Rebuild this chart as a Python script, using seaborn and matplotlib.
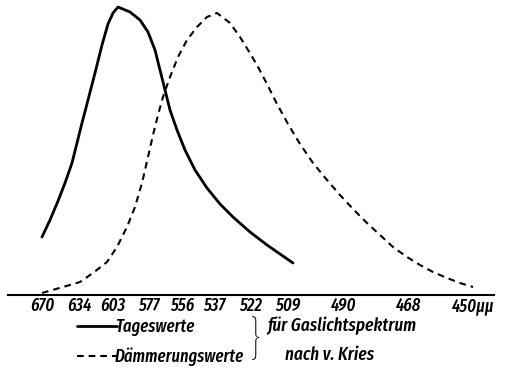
import pandas as pd
import matplotlib
matplotlib.use('Agg')
import matplotlib.pyplot as plt
import seaborn as sns

# Spektralskala des Gaslichtspektrums: Skalenteile und zugehoerige Wellenlaengen
tick_pos = [0, 37, 71, 107, 140, 172, 209, 246, 302, 366, 431]
tick_labels = ['670', '634', '603', '577', '556', '537', '522', '509', '490', '468', '450μμ']

# Tageswerte (ausgezogen): Skalenteil, Helligkeit
day_x = [0, 8, 16, 23, 30, 35, 40, 46, 53, 60, 66, 71, 76, 88, 98, 106, 113, 118,
         123, 128, 135, 143, 153, 165, 178, 191, 208, 225, 238, 251]
day_y = [58, 75, 94, 112, 132, 152, 172, 195, 222, 250, 271, 282, 288, 283, 275, 263,
         245, 225, 205, 185, 165, 145, 125, 107, 91, 78, 63, 50, 41, 32]

# Daemmerungswerte (gestrichelt)
dusk_x = [0, 21, 38, 51, 65, 75, 85, 93, 100, 106, 111, 116, 121, 128, 136, 145, 155,
          165, 175, 188, 198, 206, 215, 225, 235, 246, 258, 271, 285, 298, 311, 325,
          338, 351, 365, 378, 391, 405, 418, 431]
dusk_y = [2, 8, 13, 22, 33, 48, 68, 88, 112, 138, 160, 180, 198, 218, 238, 255, 268,
          278, 282, 272, 258, 245, 230, 211, 191, 171, 151, 132, 115, 100, 86, 72,
          60, 48, 38, 30, 23, 17, 12, 8]

day = pd.DataFrame({'x': day_x, 'y': day_y})
dusk = pd.DataFrame({'x': dusk_x, 'y': dusk_y})

sns.set_style('white')
plt.rcParams['font.family'] = ['Fira Sans Extra Condensed', 'DejaVu Sans']
plt.rcParams['font.style'] = 'italic'
plt.rcParams['font.weight'] = 'medium'
plt.rcParams['text.color'] = 'black'

fig = plt.figure(figsize=(5.10, 3.68), dpi=100)
ax = fig.add_axes([8 / 510, 73 / 368, 486 / 510, 295 / 368])

sns.lineplot(data=day, x='x', y='y', ax=ax, color='black', linewidth=2.0,
             label='Tageswerte')
sns.lineplot(data=dusk, x='x', y='y', ax=ax, color='black', linewidth=1.5,
             label='Dämmerungswerte')
ax.lines[1].set_dashes((3.2, 2.4))

ax.set_xlim(-34, 452)
ax.set_ylim(0, 295)
ax.set_xlabel('')
ax.set_ylabel('')
ax.set_yticks([])
ax.set_xticks(tick_pos)
ax.set_xticklabels(tick_labels, fontsize=13, style='italic', fontweight='medium')
ax.tick_params(axis='x', direction='in', length=6, width=1.0, pad=1.5, colors='black')
sns.despine(ax=ax, left=True, top=True, right=True)
ax.spines['bottom'].set_linewidth(1.5)
ax.spines['bottom'].set_color('black')

handles, labels = ax.get_legend_handles_labels()
ax.get_legend().remove()
leg = fig.legend(handles, labels, loc='upper left', bbox_to_anchor=(77 / 510, 1 - 318 / 368),
                 frameon=False, fontsize=13, handlelength=2.2, handletextpad=-0.1,
                 borderpad=0, borderaxespad=0, labelspacing=0.65)
for t in leg.get_texts():
    t.set_style('italic')
    t.set_fontweight('medium')

fig.text(255 / 510, 1 - 341 / 368, '}', fontsize=34, ha='center', va='center',
         style='normal', fontweight='light')
fig.text(267 / 510, 1 - 326 / 368, 'für Gaslichtspektrum', fontsize=13.5,
         ha='left', va='center', style='italic', fontweight='medium')
fig.text(330 / 510, 1 - 355 / 368, 'nach v. Kries', fontsize=13.5,
         ha='center', va='center', style='italic', fontweight='medium')

fig.savefig('out.png', dpi=100)
